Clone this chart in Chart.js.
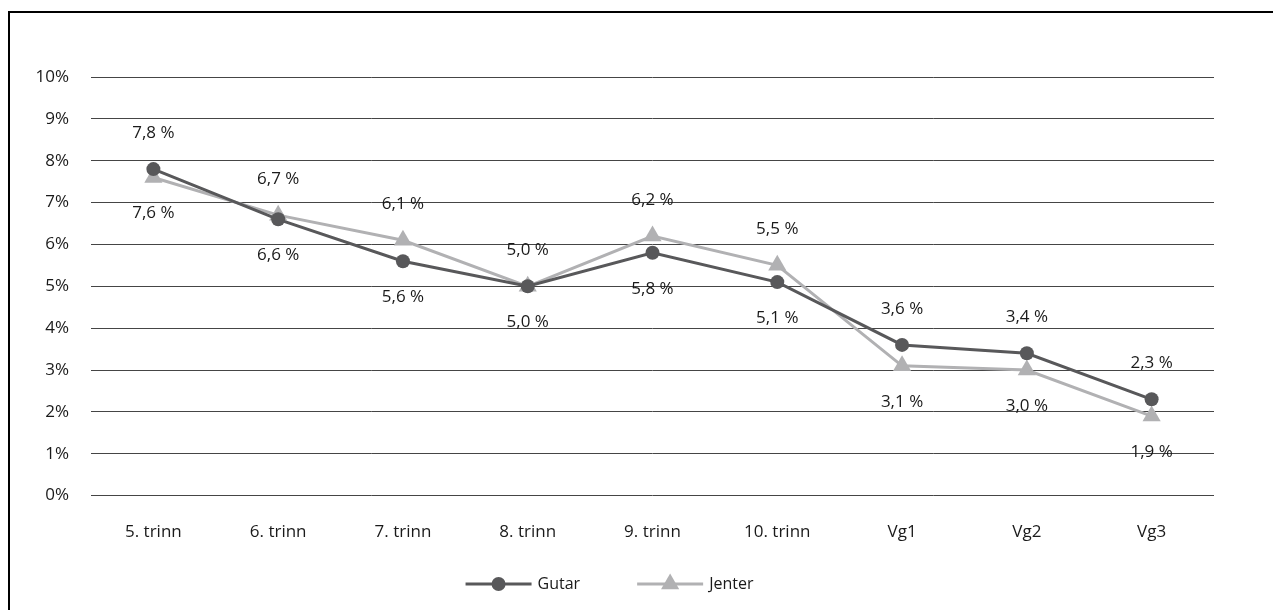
<!DOCTYPE html>
<html>
<head>
<meta charset="utf-8">
<script src="https://cdn.jsdelivr.net/npm/chart.js@4"></script>
<style>
  html, body { margin: 0; padding: 0; background: #fff; overflow: hidden; }
  #frame {
    position: absolute; left: 8px; top: 11px;
    width: 1290px; height: 620px;
    border: 2px solid #000; box-sizing: border-box;
  }
  #wrap {
    position: absolute; left: 10px; top: 13px;
    width: 1263px; height: 597px;
  }
</style>
</head>
<body>
<div id="frame"></div>
<div id="wrap"><canvas id="lineChart"></canvas></div>
<script>
const categories = ['5. trinn', '6. trinn', '7. trinn', '8. trinn', '9. trinn', '10. trinn', 'Vg1', 'Vg2', 'Vg3'];
const gutar = [7.8, 6.6, 5.6, 5.0, 5.8, 5.1, 3.6, 3.4, 2.3];
const jenter = [7.6, 6.7, 6.1, 5.0, 6.2, 5.5, 3.1, 3.0, 1.9];
// where each value label sits: 'top' or 'bottom' of its point
const gutarLabelPos = ['top', 'bottom', 'bottom', 'bottom', 'bottom', 'bottom', 'top', 'top', 'top'];
const jenterLabelPos = ['bottom', 'top', 'top', 'top', 'top', 'top', 'bottom', 'bottom', 'bottom'];
const yTicks = [0, 1, 2, 3, 4, 5, 6, 7, 8, 9, 10];

const darkGrey = '#58585a';
const lightGrey = '#b1b1b3';
const textColor = '#1a1a1a';
const fontFamily = '"Open Sans", "Noto Sans", sans-serif';

function fmt(v) {
    return v.toFixed(1).replace('.', ',') + ' %';
}

const valueLabels = {
    id: 'valueLabels',
    afterDatasetsDraw(chart) {
        const ctx = chart.ctx;
        ctx.save();
        ctx.font = '17px ' + fontFamily;
        ctx.fillStyle = textColor;
        ctx.textAlign = 'center';
        ctx.textBaseline = 'middle';
        chart.data.datasets.forEach((ds, di) => {
            const meta = chart.getDatasetMeta(di);
            meta.data.forEach((pt, i) => {
                const off = ds.labelPos[i] === 'top' ? -36 : 36;
                ctx.fillText(fmt(ds.data[i]), pt.x, pt.y + off);
            });
        });
        ctx.restore();
    }
};

// legend below the axis: a line with the marker in its middle, then the name
const lineLegend = {
    id: 'lineLegend',
    afterDraw(chart) {
        const ctx = chart.ctx;
        const area = chart.chartArea;
        const swatch = 66, gapText = 6, gapItem = 57;
        ctx.save();
        ctx.font = '16px ' + fontFamily;
        ctx.textBaseline = 'middle';
        const items = chart.data.datasets.map(ds => ({ ds, w: swatch + gapText + ctx.measureText(ds.label).width }));
        const total = items.reduce((s, it) => s + it.w, 0) + gapItem * (items.length - 1);
        let x = (area.left + area.right) / 2 - 43 - total / 2;
        const y = chart.height - 26;
        items.forEach(it => {
            const ds = it.ds;
            ctx.strokeStyle = ds.borderColor;
            ctx.lineWidth = ds.borderWidth;
            ctx.beginPath();
            ctx.moveTo(x, y);
            ctx.lineTo(x + swatch, y);
            ctx.stroke();
            ctx.fillStyle = ds.pointBackgroundColor;
            Chart.helpers.drawPoint(ctx, {
                pointStyle: ds.pointStyle, radius: ds.pointRadius, rotation: 0, borderWidth: 0
            }, x + swatch / 2, y);
            ctx.fillStyle = textColor;
            ctx.textAlign = 'left';
            ctx.fillText(ds.label, x + swatch + gapText, y);
            x += it.w + gapItem;
        });
        ctx.restore();
    }
};

new Chart(document.getElementById('lineChart'), {
    type: 'line',
    data: {
        labels: categories,
        datasets: [{
            label: 'Gutar',
            data: gutar,
            labelPos: gutarLabelPos,
            borderColor: darkGrey,
            backgroundColor: darkGrey,
            borderWidth: 3,
            tension: 0,
            pointStyle: 'circle',
            pointRadius: 7,
            pointBorderWidth: 0,
            pointBackgroundColor: darkGrey
        }, {
            label: 'Jenter',
            data: jenter,
            labelPos: jenterLabelPos,
            borderColor: lightGrey,
            backgroundColor: lightGrey,
            borderWidth: 3,
            tension: 0,
            pointStyle: 'triangle',
            pointRadius: 10.5,
            pointBorderWidth: 0,
            pointBackgroundColor: lightGrey
        }]
    },
    options: {
        responsive: true,
        maintainAspectRatio: false,
        animation: false,
        layout: {
            padding: { left: 10, right: 59, top: 64, bottom: 50 }
        },
        plugins: {
            tooltip: { enabled: false },
            legend: { display: false }
        },
        scales: {
            x: {
                offset: true,
                grid: { display: false },
                border: { display: false },
                ticks: {
                    color: textColor,
                    padding: 18,
                    font: { family: fontFamily, size: 17 }
                }
            },
            y: {
                min: 0,
                max: 10,
                afterFit(scale) { scale.width = 71; },
                afterBuildTicks(scale) { scale.ticks = yTicks.map(v => ({ value: v })); },
                grid: { color: '#454545', lineWidth: 1, drawTicks: false },
                border: { display: false },
                ticks: {
                    color: textColor,
                    padding: 22,
                    font: { family: fontFamily, size: 17 },
                    callback: v => v + '%'
                }
            }
        }
    },
    plugins: [valueLabels, lineLegend]
});
</script>
</body>
</html>
